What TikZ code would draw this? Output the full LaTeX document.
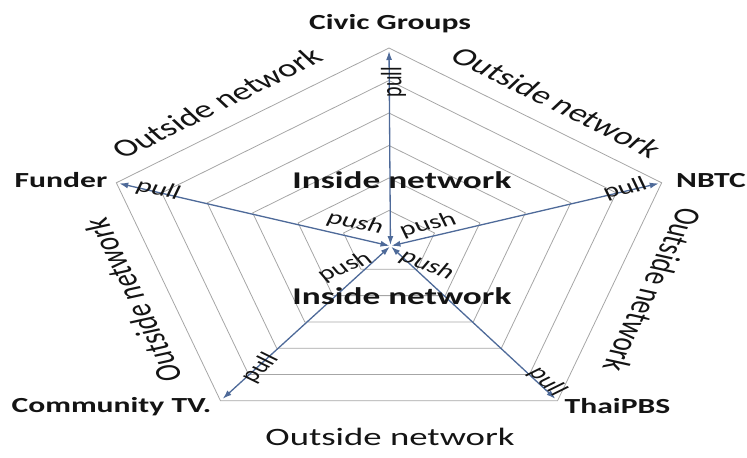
\documentclass[tikz,border=0pt]{standalone}
\usepackage{fontspec}
\setmainfont{Carlito}
\usetikzlibrary{arrows.meta}
\definecolor{netInk}{HTML}{141414}
\definecolor{netBlue}{HTML}{4E6A99}
\definecolor{netGray}{HTML}{A6A6A6}
\tikzset{
  every picture/.style={text=netInk},
  net grid/.style={draw=netGray, line width=0.8pt},
  net arrow/.style={{Latex[length=9pt,width=6pt]}-{Latex[length=9pt,width=6pt]},
    draw=netBlue, line width=1.3pt, shorten <=1pt, shorten >=3pt},
  net actor/.style={transform shape, inner sep=0pt, font=\fontsize{21.5}{24}\selectfont\bfseries},
  net zone/.style={transform shape, inner sep=0pt, font=\fontsize{24}{27}\selectfont\bfseries},
  net outside/.style={transform shape, inner sep=0pt, font=\fontsize{25}{28}\selectfont},
  net tag/.style={transform shape, inner sep=0pt, font=\fontsize{20}{22}\selectfont}
}

\begin{document}
\begin{tikzpicture}[x=1pt,y=1pt,xscale=1.47]
  \useasboundingbox (-264.6,-214) rectangle (243.5,243);

  % rings of the radar
  \foreach \r in {1,...,6}{
    \draw[net grid] (90:{\r*32.5}) -- (18:{\r*32.5}) -- (-54:{\r*32.5})
      -- (-126:{\r*32.5}) -- (162:{\r*32.5}) -- cycle;
  }

  \coordinate (hub) at (1,-3);
  \coordinate (civic) at (90:195);
  \coordinate (nbtc) at (18:195);
  \coordinate (thaipbs) at (-54:195);
  \coordinate (commtv) at (-126:195);
  \coordinate (funder) at (162:195);

  % push / pull arrows
  \foreach \v in {civic,nbtc,thaipbs,commtv,funder}
    \draw[net arrow] (hub) -- (\v);

  % actors
  \node[net actor] (civicLbl) at (0.7,219) {Civic Groups};
  \node[net actor] (nbtcLbl) at (219,62) {NBTC};
  \node[net actor] (thaipbsLbl) at (155.4,-162.5) {ThaiPBS};
  \node[net actor] (commtvLbl) at (-188.8,-164) {Community TV.};
  \node[net actor] (funderLbl) at (-223.1,63) {Funder};

  % zones
  \node[net zone] (insideTop) at (8.8,63) {Inside network};
  \node[net zone] (insideBot) at (8.8,-53) {Inside network};
  \node[net outside, rotate=36] (outNW) at (-117,140) {Outside network};
  \node[net outside, rotate=-36] (outNE) at (114.3,141) {Outside network};
  \node[net outside, rotate=108] (outW) at (-174,-57) {Outside network};
  \node[net outside, rotate=-108] (outE) at (179.6,-47) {Outside network};
  \node[net outside] (outS) at (0.7,-194) {Outside network};

  % pull tags
  \node[net tag, rotate=90] (pullCivic) at (3,161) {pull};
  \node[net tag, rotate=18] (pullNbtc) at (160.5,54) {pull};
  \node[net tag, rotate=-54] (pullThai) at (107.5,-139) {pull};
  \node[net tag, rotate=54] (pullComm) at (-87.8,-125) {pull};
  \node[net tag, rotate=-18] (pullFunder) at (-157,53) {pull};

  % push tags
  \node[net tag, rotate=-18] (pushFunder) at (-23,20) {push};
  \node[net tag, rotate=18] (pushNbtc) at (26.5,18) {push};
  \node[net tag, rotate=30] (pushComm) at (-30,-24) {push};
  \node[net tag, rotate=-30] (pushThai) at (25.9,-22) {push};
\end{tikzpicture}
\end{document}
